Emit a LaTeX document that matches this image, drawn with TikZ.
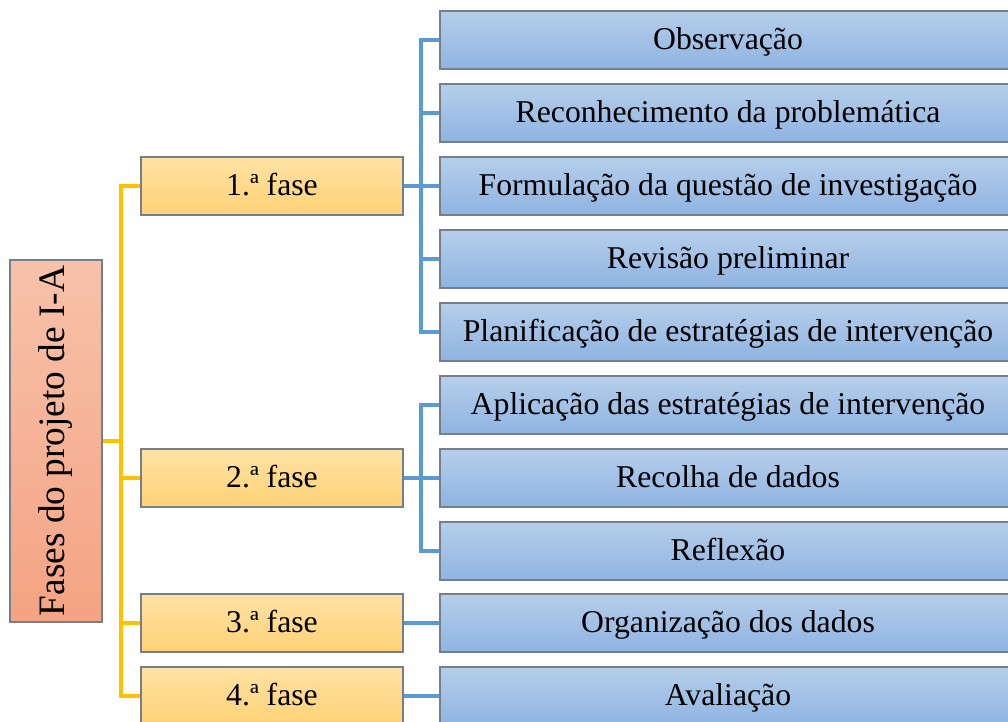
\documentclass[tikz,border=0pt]{standalone}
\usepackage{fontspec}
\setmainfont{Liberation Serif}

\definecolor{roottop}{RGB}{247,194,170}
\definecolor{rootbot}{RGB}{244,163,131}
\definecolor{fasetop}{RGB}{255,226,164}
\definecolor{fasebot}{RGB}{255,210,118}
\definecolor{acttop}{RGB}{182,206,234}
\definecolor{actbot}{RGB}{142,180,226}
\definecolor{boxline}{RGB}{118,126,138}
\definecolor{yline}{RGB}{255,192,0}
\definecolor{bline}{RGB}{91,155,213}

\begin{document}
\begin{tikzpicture}[x=0.75pt, y=-0.75pt,
    rootbox/.style={draw=boxline, line width=0.9pt, top color=roottop, bottom color=rootbot,
      minimum width=69pt, minimum height=271.5pt, inner sep=0pt},
    fasebox/.style={draw=boxline, line width=0.9pt, top color=fasetop, bottom color=fasebot,
      minimum width=196.5pt, minimum height=43.5pt, inner sep=0pt,
      text height=15pt, text depth=1.5pt, font=\fontsize{23.8}{26}\selectfont},
    actbox/.style={draw=boxline, line width=0.9pt, top color=acttop, bottom color=actbot,
      minimum width=432pt, minimum height=43.5pt, inner sep=0pt,
      text height=15pt, text depth=1.5pt, font=\fontsize{23.8}{26}\selectfont},
    ylink/.style={yline, line width=2.3pt},
    blink/.style={bline, line width=2.3pt}]
  \useasboundingbox (0,0) rectangle (1008,722);
  \clip (0,0) rectangle (1008,722);

  % root
  \node[rootbox] (root) at (56,441) {\rotatebox{90}{\fontsize{28}{30}\selectfont Fases do projeto de I-A}};

  % phases
  \node[fasebox] (f1) at (272,186) {1.ª fase};
  \node[fasebox] (f2) at (272,478) {2.ª fase};
  \node[fasebox] (f3) at (272,623) {3.ª fase};
  \node[fasebox] (f4) at (272,696) {4.ª fase};

  % steps
  \node[actbox] (obs) at (728,40) {Observação};
  \node[actbox] (rec) at (728,113) {Reconhecimento da problemática};
  \node[actbox] (form) at (728,186) {Formulação da questão de investigação};
  \node[actbox] (rev) at (728,259) {Revisão preliminar};
  \node[actbox] (plan) at (728,332) {Planificação de estratégias de intervenção};
  \node[actbox] (apl) at (728,405) {Aplicação das estratégias de intervenção};
  \node[actbox] (dados) at (728,478) {Recolha de dados};
  \node[actbox] (refl) at (728,551) {Reflexão};
  \node[actbox] (org) at (728,623) {Organização dos dados};
  \node[actbox] (aval) at (728,696) {Avaliação};

  % yellow tree
  \coordinate (ytrunk) at (121,441);
  \draw[ylink] (root) -- (ytrunk);
  \foreach \f in {f1,f2,f3,f4}
    \draw[ylink] (ytrunk) |- (\f);

  % blue brackets
  \coordinate (bone) at (421,186);
  \coordinate (btwo) at (421,478);
  \draw[blink] (f1) -- (bone);
  \foreach \s in {obs,rec,form,rev,plan}
    \draw[blink] (bone) |- (\s);
  \draw[blink] (f2) -- (btwo);
  \foreach \s in {apl,dados,refl}
    \draw[blink] (btwo) |- (\s);
  \draw[blink] (f3) -- (org);
  \draw[blink] (f4) -- (aval);
\end{tikzpicture}
\end{document}
